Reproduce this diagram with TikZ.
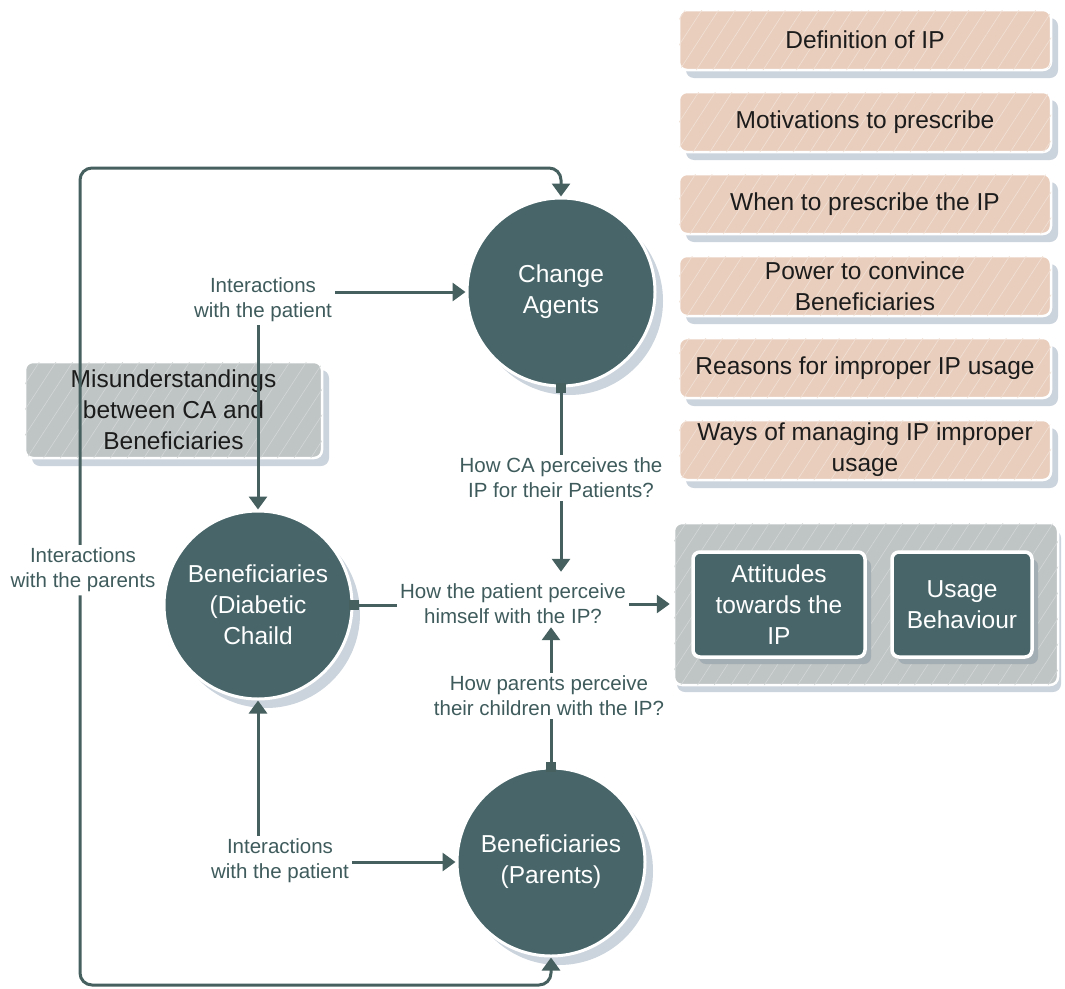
\documentclass[tikz,border=0pt]{standalone}
\usepackage{fontspec}
\setmainfont{Liberation Sans}
\usetikzlibrary{arrows.meta,patterns,patterns.meta,shadows}

\definecolor{nodefill}{HTML}{48666A}
\definecolor{linecol}{HTML}{46605F}
\definecolor{peach}{HTML}{E9CEBD}
\definecolor{greybox}{HTML}{BFC4C4}
\definecolor{shade}{HTML}{CBD3DC}
\definecolor{shadedark}{HTML}{A3ADB4}
\definecolor{labelcol}{HTML}{3F5B5C}
\definecolor{boxtext}{HTML}{1C1C1C}

\tikzset{
  bigfont/.style={font=\fontsize{24.5}{31}\selectfont},
  smallfont/.style={font=\fontsize{20.5}{25}\selectfont},
  hatch/.style={postaction={pattern={Lines[angle=57,distance=14pt,line width=0.6pt]},pattern color=#1}},
  softshadow/.style={drop shadow={shadow xshift=7pt,shadow yshift=-8pt,fill=#1,opacity=1}},
  actor/.style={circle,minimum size=188pt,inner sep=0pt,fill=nodefill,draw=white,
    line width=3pt,text=white,align=center,bigfont,
    drop shadow={shadow xshift=8pt,shadow yshift=-9pt,fill=shade,opacity=1}},
  topic/.style={rectangle,rounded corners=8pt,minimum width=372pt,minimum height=60pt,
    inner sep=2pt,fill=peach,draw=white,line width=2.5pt,text=boxtext,align=center,
    bigfont,softshadow=shade,hatch=white!38!peach},
  misbox/.style={rectangle,rounded corners=8pt,minimum width=297pt,minimum height=96pt,
    inner sep=2pt,fill=greybox,draw=white,line width=2.5pt,text=boxtext,align=center,
    bigfont,softshadow=shade,hatch=white!32!greybox},
  greyframe/.style={rectangle,rounded corners=8pt,minimum width=384pt,minimum height=162pt,
    inner sep=0pt,fill=greybox,draw=white,line width=2.5pt,
    drop shadow={shadow xshift=3pt,shadow yshift=-7pt,fill=shade,opacity=1},hatch=white!32!greybox},
  result/.style={rectangle,rounded corners=7pt,minimum height=105pt,inner sep=2pt,
    fill=nodefill,draw=white,line width=3.5pt,text=white,align=center,bigfont,
    drop shadow={shadow xshift=6pt,shadow yshift=-7pt,fill=shadedark,opacity=1}},
  linetext/.style={text=labelcol,align=center,smallfont,inner sep=3pt},
  conn/.style={draw=linecol,line width=3pt},
  tri/.style={-{Triangle[width=18pt,length=13pt]}},
  sqstart/.style={{Square[length=10pt,width=10pt]}-,shorten <=-5pt},
}

\begin{document}
\begin{tikzpicture}[x=1pt,y=-1pt]
  \useasboundingbox (0,0) rectangle (1065,988);
  \fill[white] (0,0) rectangle (1065,988);

  % topics on the right
  \node[topic] (t1) at (865,40)  {Definition of IP};
  \node[topic] (t2) at (865,122) {Motivations to prescribe};
  \node[topic] (t3) at (865,204) {When to prescribe the IP};
  \node[topic] (t4) at (865,286) {Power to convince\\Beneficiaries};
  \node[topic] (t5) at (865,368) {Reasons for improper IP usage};
  \node[topic] (t6) at (865,450) {Ways of managing IP improper\\usage};

  % outcome panel
  \node[greyframe] (gb) at (866,604) {};
  \node[result,minimum width=172pt] (att) at (779,604.5) {Attitudes\\towards the\\IP};
  \node[result,minimum width=140pt] (use) at (962,604.5) {Usage\\Behaviour};

  % misunderstandings
  \node[misbox] (mis) at (173.5,410) {Misunderstandings\\between CA and\\Beneficiaries};

  % actors
  \node[actor] (ca)  at (561,292) {Change\\Agents};
  \node[actor] (dc)  at (258,605) {Beneficiaries\\(Diabetic\\Chaild};
  \node[actor] (par) at (551,862) {Beneficiaries\\(Parents)};

  % connector labels
  \node[linetext] (lp1)  at (263,300) {Interactions\\with the patient};
  \node[linetext] (lp2)  at (280,861) {Interactions\\with the patient};
  \node[linetext] (lpar) at (83,570)  {Interactions\\with the parents};
  \node[linetext] (lca)  at (561,478) {How CA perceives the\\IP for their Patients?};
  \node[linetext] (lpat) at (513,604) {How the patient perceive\\himself with the IP?};
  \node[linetext] (lpp)  at (549,696) {How parents perceive\\their children with the IP?};

  \coordinate (tl) at (80,168);
  \coordinate (bl) at (80,985);

  % connectors
  \draw[conn,tri] (lp1.east |- ca.west) -- (ca.west);
  \draw[conn,tri] (dc.north |- lp1.south) -- (dc.north);
  \draw[conn,sqstart] (ca.south) -- (ca.south |- lca.north);
  \draw[conn,tri,shorten >=9pt] (ca.south |- lca.south) -- (ca.south |- lpat.north);
  \draw[conn,sqstart] (dc.east) -- (dc.east -| lpat.west);
  \draw[conn,tri,shorten >=3pt] (lpat.east) -- (gb.west);
  \draw[conn,sqstart] (par.north) -- (par.north |- lpp.south);
  \draw[conn,tri] (par.north |- lpp.north) -- (par.north |- lpat.south);
  \draw[conn,tri] (dc.south |- lp2.north) -- (dc.south);
  \draw[conn,tri] (lp2.east |- par.west) -- (par.west);
  \draw[conn,tri,rounded corners=12pt] (lpar.north -| tl) -- (tl) -| (ca.north);
  \draw[conn,tri,rounded corners=12pt] (lpar.south -| bl) -- (bl) -| (par.south);
\end{tikzpicture}
\end{document}
